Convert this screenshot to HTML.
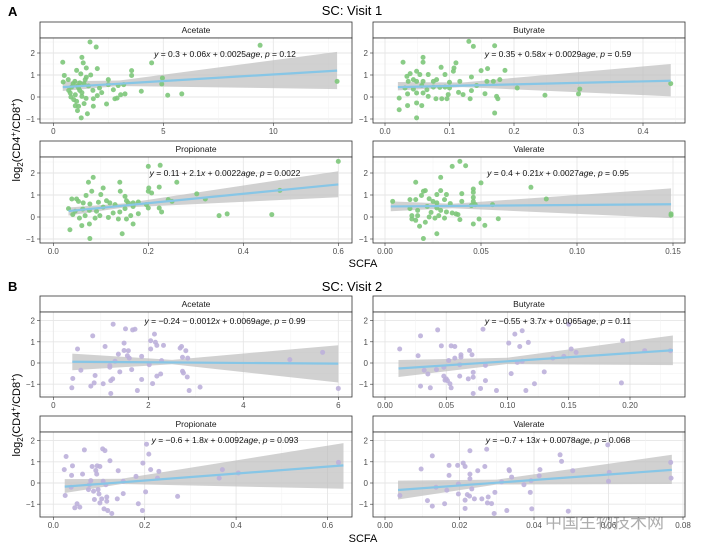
<!DOCTYPE html>
<html><head><meta charset="utf-8"><style>
html,body{margin:0;padding:0;background:#fff;}
svg{display:block;font-family:"Liberation Sans",Arial,sans-serif;}
</style></head><body>
<svg id="fig" width="705" height="553" viewBox="0 0 705 553" xmlns="http://www.w3.org/2000/svg">
<text x="8" y="16" font-size="13" font-weight="bold">A</text>
<text x="352" y="15" font-size="13" text-anchor="middle">SC: Visit 1</text>
<text x="8" y="291" font-size="13" font-weight="bold">B</text>
<text x="352" y="291" font-size="13" text-anchor="middle">SC: Visit 2</text>
<text transform="translate(20,140) rotate(-90)" font-size="11" text-anchor="middle">log<tspan font-size="8" dy="3">2</tspan><tspan dy="-3">(CD4</tspan><tspan font-size="8" dy="-4">+</tspan><tspan dy="4">/CD8</tspan><tspan font-size="8" dy="-4">+</tspan><tspan dy="4">)</tspan></text>
<text transform="translate(20,415) rotate(-90)" font-size="11" text-anchor="middle">log<tspan font-size="8" dy="3">2</tspan><tspan dy="-3">(CD4</tspan><tspan font-size="8" dy="-4">+</tspan><tspan dy="4">/CD8</tspan><tspan font-size="8" dy="-4">+</tspan><tspan dy="4">)</tspan></text>
<text x="363" y="267" font-size="11" text-anchor="middle">SCFA</text>
<text x="363" y="542" font-size="11" text-anchor="middle">SCFA</text>
<text x="545" y="528" font-size="17" fill="#9a9a9a" font-family="'Liberation Sans','Noto Sans CJK SC',sans-serif" opacity="0.8">中国生物技术网</text>
<g id="panels"></g>
</svg>
<script>
// ---- data: Visit 1 ----
const v1AcetateX = [1.67,1.95,0.43,1.3,1.36,1.06,1.5,2.0,0.5,0.68,0.45,0.83,0.98,1.2,1.45,1.7,1.15,0.77,0.93,1.06,1.15,1.1,1.27,1.55,1.3,1.49,1.82,1.82,2.0,2.1,2.42,2.5,2.5,2.73,2.8,2.9,2.95,3.06,3.26,3.2,3.56,3.56,4.0,4.47,4.96,4.93,5.2,5.84,9.4,12.9,1.1,1.2,1.4,1.0,1.3,0.9,1.6,1.5,1.25,0.7,1.4,1.0,1.8,2.2,0.8];
const v1AcetateY = [2.5,2.27,1.58,1.8,1.55,1.21,1.32,1.29,0.98,0.79,0.68,0.45,0.71,0.64,0.79,1.0,0.41,0.18,-0.12,-0.2,-0.42,-0.62,-0.95,-0.76,0.03,-0.06,-0.08,-0.42,0.06,0.41,-0.32,0.79,0.56,0.33,-0.08,-0.05,0.52,0.1,0.14,0.56,1.2,0.98,0.26,1.55,0.86,0.59,0.08,0.14,2.35,0.71,0.5,0.3,0.6,0.1,0.2,0.6,0.5,0.9,1.05,0.3,-0.3,-0.4,0.3,0.2,0.0];
const v1ButyrateX = [0.13,0.137,0.17,0.028,0.059,0.059,0.11,0.087,0.107,0.106,0.186,0.159,0.149,0.039,0.049,0.054,0.067,0.034,0.036,0.044,0.049,0.059,0.075,0.08,0.093,0.1,0.116,0.134,0.158,0.168,0.178,0.031,0.044,0.057,0.065,0.075,0.085,0.093,0.1,0.114,0.121,0.134,0.142,0.022,0.035,0.049,0.059,0.067,0.079,0.088,0.096,0.098,0.132,0.155,0.173,0.175,0.022,0.035,0.049,0.057,0.049,0.17,0.205,0.248,0.302,0.3,0.443];
const v1ButyrateY = [2.53,2.3,2.33,1.58,1.8,1.58,1.55,1.35,1.32,1.17,1.21,1.29,1.2,1.06,1.17,1.02,1.02,0.94,0.71,0.79,0.71,0.71,0.71,0.79,1.02,0.67,0.71,0.91,0.71,0.71,0.79,0.41,0.36,0.52,0.33,0.45,0.44,0.45,0.41,0.21,0.11,0.29,0.52,-0.05,0.14,0.18,0.18,0.03,-0.08,-0.08,-0.08,0.11,-0.08,0.15,0.03,-0.08,-0.58,-0.39,-0.27,-0.39,-0.95,-0.73,0.41,0.08,0.36,0.14,0.61];
const v1PropionateX = [0.2,0.225,0.6,0.084,0.074,0.105,0.14,0.26,0.201,0.2,0.207,0.223,0.141,0.081,0.069,0.1,0.039,0.049,0.053,0.063,0.077,0.095,0.112,0.119,0.13,0.151,0.154,0.158,0.168,0.179,0.196,0.2,0.242,0.302,0.32,0.25,0.032,0.046,0.062,0.076,0.091,0.105,0.126,0.14,0.151,0.168,0.179,0.223,0.228,0.041,0.055,0.067,0.088,0.098,0.116,0.137,0.154,0.163,0.168,0.06,0.076,0.035,0.077,0.145,0.349,0.366,0.46,0.477];
const v1PropionateY = [2.3,2.35,2.53,1.8,1.58,1.32,1.58,1.58,1.32,1.17,1.09,1.36,1.17,1.17,0.98,1.02,0.82,0.82,0.71,0.64,0.59,0.67,0.74,0.64,0.56,0.94,0.74,0.64,0.64,0.68,0.56,0.41,0.79,1.05,0.82,0.71,0.38,0.26,0.36,0.3,0.26,0.45,0.18,0.23,0.38,0.48,0.15,0.41,0.23,0.11,-0.05,0.06,-0.05,0.06,-0.02,-0.09,-0.09,0.06,-0.32,-0.39,-0.32,-0.58,-0.98,-0.76,0.06,0.14,0.11,1.21];
const v1ValerateX = [0.039,0.042,0.035,0.029,0.016,0.05,0.076,0.084,0.02,0.021,0.029,0.046,0.046,0.04,0.032,0.027,0.019,0.004,0.013,0.016,0.023,0.025,0.031,0.034,0.04,0.046,0.046,0.022,0.027,0.027,0.013,0.017,0.024,0.029,0.032,0.035,0.038,0.045,0.047,0.056,0.014,0.017,0.023,0.026,0.028,0.031,0.037,0.039,0.049,0.059,0.014,0.016,0.021,0.018,0.046,0.052,0.027,0.02,0.149,0.149];
const v1ValerateY = [2.53,2.33,2.3,1.8,1.58,1.55,1.35,0.82,1.17,1.2,1.2,1.27,1.12,1.06,1.02,1.02,0.98,0.71,0.79,0.79,0.83,0.71,0.79,0.61,0.71,0.89,0.71,0.48,0.64,0.41,0.38,0.3,0.21,0.3,0.23,0.18,0.11,0.52,0.56,0.56,0.06,0.06,0.0,-0.05,0.06,-0.05,0.14,-0.12,-0.09,-0.08,-0.09,-0.15,-0.24,-0.42,-0.32,-0.38,-0.76,-0.98,0.08,0.14];
// ---- data: Visit 2 ----
const v2AcetateX = [1.26,1.52,1.67,1.72,0.83,2.13,0.51,1.09,1.49,2.05,2.15,2.18,2.32,2.67,2.7,2.79,1.37,1.49,1.58,1.56,1.6,1.86,2.05,2.72,2.83,2.28,1.3,1.19,1.19,2.02,0.58,1.65,1.4,2.72,2.74,2.82,2.26,2.18,0.41,0.88,1.25,1.21,1.86,0.86,1.05,0.79,0.39,2.09,1.77,1.21,2.86,3.09,4.98,5.67,6.0];
const v2AcetateY = [1.83,1.61,1.56,1.59,1.28,1.36,0.66,0.78,0.94,1.05,0.98,0.83,0.83,0.7,0.78,0.58,0.42,0.59,0.58,0.34,0.23,0.31,0.66,0.27,0.23,0.11,0.08,-0.12,-0.2,-0.08,-0.34,-0.31,-0.42,-0.39,-0.47,-0.66,-0.52,-0.62,-0.73,-0.59,-0.75,-0.83,-0.78,-0.94,-0.98,-1.09,-1.17,-0.97,-1.3,-1.44,-1.3,-1.14,0.16,0.5,-1.2];
const v2ButyrateX = [0.012,0.029,0.043,0.046,0.054,0.057,0.027,0.052,0.057,0.062,0.062,0.069,0.071,0.061,0.08,0.106,0.112,0.101,0.11,0.117,0.082,0.108,0.112,0.137,0.146,0.152,0.156,0.15,0.194,0.212,0.233,0.032,0.035,0.042,0.048,0.048,0.05,0.051,0.049,0.053,0.054,0.029,0.037,0.061,0.068,0.072,0.072,0.082,0.078,0.072,0.091,0.103,0.115,0.122,0.13,0.193];
const v2ButyrateY = [0.66,1.28,1.56,0.81,0.81,0.78,0.34,0.12,0.23,0.39,0.28,0.59,0.39,-0.08,1.59,1.36,1.52,0.94,0.78,0.97,-0.11,0.03,0.08,0.23,0.31,0.66,0.5,1.83,1.05,0.58,0.58,-0.34,-0.52,-0.31,-0.2,-0.62,-0.75,-0.83,-0.81,-0.98,-1.17,-1.09,-1.17,-0.62,-0.75,-0.67,-0.44,-0.83,-1.2,-1.44,-1.3,-0.5,-1.3,-0.98,-0.42,-0.94];
const v2PropionateX = [0.028,0.068,0.108,0.113,0.204,0.209,0.024,0.042,0.04,0.064,0.085,0.096,0.102,0.093,0.095,0.124,0.142,0.196,0.213,0.231,0.228,0.181,0.153,0.039,0.082,0.109,0.115,0.079,0.026,0.077,0.088,0.098,0.1,0.09,0.117,0.117,0.106,0.102,0.14,0.153,0.202,0.186,0.195,0.047,0.052,0.058,0.111,0.119,0.128,0.272,0.363,0.37,0.405,0.624];
const v2PropionateY = [1.25,1.56,1.61,1.53,1.83,1.36,0.63,0.81,0.36,0.42,0.78,0.81,0.78,0.59,0.42,1.05,0.58,0.94,0.63,0.55,0.23,0.31,0.08,-0.2,0.11,0.08,-0.08,-0.08,-0.59,-0.31,-0.39,-0.31,-0.52,-0.78,-0.66,-0.86,-0.75,-0.94,-0.75,-0.5,-0.42,-0.98,-1.3,-1.17,-0.98,-1.14,-1.22,-1.3,-1.44,-0.63,0.23,0.63,0.47,0.97];
const v2ValerateX = [0.004,0.0097,0.0127,0.0114,0.0127,0.0137,0.016,0.0166,0.0172,0.0172,0.0195,0.0197,0.0197,0.021,0.0215,0.0215,0.0215,0.0221,0.0227,0.0228,0.0228,0.0228,0.0233,0.024,0.0249,0.026,0.0268,0.0273,0.0275,0.0277,0.0286,0.0293,0.0295,0.0313,0.0327,0.0333,0.0334,0.034,0.0373,0.039,0.0392,0.0394,0.0414,0.0416,0.047,0.0474,0.0492,0.0504,0.0598,0.0602,0.06,0.0767,0.0768];
const v2ValerateY = [-0.59,0.66,1.28,-0.83,-1.09,-0.2,-0.98,-0.34,0.83,0.36,0.83,-0.05,-0.52,0.94,0.78,-0.81,-1.2,-0.55,-0.62,1.52,0.42,0.2,-0.28,-0.75,0.58,-0.75,0.78,1.59,-0.94,-0.66,-0.97,-1.44,-0.44,0.05,-1.3,0.63,0.58,0.28,-0.08,-0.44,0.11,-1.22,0.34,0.63,1.33,1.02,-1.33,0.58,1.8,0.5,0.08,0.97,0.23];
// ---- fitted lines [xStart, xMid, xEnd] with fit, lower, upper ----
const fitX = {v1a:[0.43,3,12.9], v1b:[0.02,0.12,0.443], v1p:[0.032,0.15,0.6], v1v:[0.003,0.035,0.149], v2a:[0.4,2.5,6.0], v2b:[0.011,0.1,0.235], v2p:[0.025,0.15,0.635], v2v:[0.0035,0.03,0.077]};
const fitY = {v1a:[0.45,0.62,1.2], v1b:[0.45,0.56,0.74], v1p:[0.27,0.52,1.48], v1v:[0.48,0.5,0.58], v2a:[0.06,0.04,-0.03], v2b:[-0.26,0.1,0.6], v2p:[-0.17,0.05,0.83], v2v:[-0.33,0.05,0.62]};
const bandLo = {v1a:[0.27,0.5,0.36], v1b:[0.3,0.45,0.03], v1p:[0.07,0.43,0.9], v1v:[0.26,0.4,-0.05], v2a:[-0.34,-0.06,-0.92], v2b:[-0.66,-0.05,-0.1], v2p:[-0.47,-0.05,-0.27], v2v:[-0.78,-0.07,-0.05]};
const bandHi = {v1a:[0.71,0.75,2.05], v1b:[0.68,0.66,1.5], v1p:[0.43,0.62,2.08], v1v:[0.71,0.6,1.3], v2a:[0.44,0.15,0.84], v2b:[0.14,0.25,1.3], v2p:[0.18,0.2,1.88], v2v:[0.11,0.16,1.33]};
const xTicksAcetate1 = [0,5,10];
const xTicksButyrate1 = [0,0.1,0.2,0.3,0.4];
const xTicksPropionate1 = [0,0.2,0.4,0.6];
const xTicksValerate1 = [0,0.05,0.1,0.15];
const xTicksAcetate2 = [0,2,4,6];
const xTicksButyrate2 = [0,0.05,0.1,0.15,0.2];
const xTicksPropionate2 = [0,0.2,0.4,0.6];
const xTicksValerate2 = [0,0.02,0.04,0.06,0.08];
const yTicks = [-1,0,1,2];
const equations = {
 v1a:'<tspan font-style="italic">y</tspan> = 0.3 + 0.06<tspan font-style="italic">x</tspan> + 0.0025<tspan font-style="italic">age</tspan>, <tspan font-style="italic">p</tspan> = 0.12',
 v1b:'<tspan font-style="italic">y</tspan> = 0.35 + 0.58<tspan font-style="italic">x</tspan> + 0.0029<tspan font-style="italic">age</tspan>, <tspan font-style="italic">p</tspan> = 0.59',
 v1p:'<tspan font-style="italic">y</tspan> = 0.11 + 2.1<tspan font-style="italic">x</tspan> + 0.0022<tspan font-style="italic">age</tspan>, <tspan font-style="italic">p</tspan> = 0.0022',
 v1v:'<tspan font-style="italic">y</tspan> = 0.4 + 0.21<tspan font-style="italic">x</tspan> + 0.0027<tspan font-style="italic">age</tspan>, <tspan font-style="italic">p</tspan> = 0.95',
 v2a:'<tspan font-style="italic">y</tspan> = −0.24 − 0.0012<tspan font-style="italic">x</tspan> + 0.0069<tspan font-style="italic">age</tspan>, <tspan font-style="italic">p</tspan> = 0.99',
 v2b:'<tspan font-style="italic">y</tspan> = −0.55 + 3.7<tspan font-style="italic">x</tspan> + 0.0065<tspan font-style="italic">age</tspan>, <tspan font-style="italic">p</tspan> = 0.11',
 v2p:'<tspan font-style="italic">y</tspan> = −0.6 + 1.8<tspan font-style="italic">x</tspan> + 0.0092<tspan font-style="italic">age</tspan>, <tspan font-style="italic">p</tspan> = 0.093',
 v2v:'<tspan font-style="italic">y</tspan> = −0.7 + 13<tspan font-style="italic">x</tspan> + 0.0078<tspan font-style="italic">age</tspan>, <tspan font-style="italic">p</tspan> = 0.068'
};

// ---- layout ----
const LEFT=[40,352], RIGHT=[373,685];
const panels = [
 {key:'v1a',name:'Acetate',col:LEFT,top:38,bot:123,x0:53.3,xs:22,y0:97,ys:22,ticks:xTicksAcetate1,fmt:v=>String(v),px:v1AcetateX,py:v1AcetateY,color:'#7dc67a',eqx:225,eqy:57},
 {key:'v1b',name:'Butyrate',col:RIGHT,top:38,bot:123,x0:385,xs:645,y0:97,ys:22,ticks:xTicksButyrate1,fmt:v=>v.toFixed(1),px:v1ButyrateX,py:v1ButyrateY,color:'#7dc67a',eqx:558,eqy:57},
 {key:'v1p',name:'Propionate',col:LEFT,top:157,bot:243,x0:53.3,xs:475,y0:217,ys:22,ticks:xTicksPropionate1,fmt:v=>v.toFixed(1),px:v1PropionateX,py:v1PropionateY,color:'#7dc67a',eqx:225,eqy:176},
 {key:'v1v',name:'Valerate',col:RIGHT,top:157,bot:243,x0:385,xs:1920,y0:217,ys:22,ticks:xTicksValerate1,fmt:v=>v.toFixed(2),px:v1ValerateX,py:v1ValerateY,color:'#7dc67a',eqx:558,eqy:176},
 {key:'v2a',name:'Acetate',col:LEFT,top:312,bot:397,x0:53.3,xs:47.5,y0:363,ys:21.2,ticks:xTicksAcetate2,fmt:v=>String(v),px:v2AcetateX,py:v2AcetateY,color:'#bdb0da',eqx:225,eqy:324},
 {key:'v2b',name:'Butyrate',col:RIGHT,top:312,bot:397,x0:385,xs:1225,y0:363,ys:21.2,ticks:xTicksButyrate2,fmt:v=>v.toFixed(2),px:v2ButyrateX,py:v2ButyrateY,color:'#bdb0da',eqx:558,eqy:324},
 {key:'v2p',name:'Propionate',col:LEFT,top:432,bot:517,x0:53.3,xs:457,y0:483,ys:21.2,ticks:xTicksPropionate2,fmt:v=>v.toFixed(1),px:v2PropionateX,py:v2PropionateY,color:'#bdb0da',eqx:225,eqy:443},
 {key:'v2v',name:'Valerate',col:RIGHT,top:432,bot:517,x0:385,xs:3725,y0:483,ys:21.2,ticks:xTicksValerate2,fmt:v=>v.toFixed(2),px:v2ValerateX,py:v2ValerateY,color:'#bdb0da',eqx:558,eqy:443}
];
const NS='http://www.w3.org/2000/svg';
const root=document.getElementById('panels');
function mk(tag,attrs,parent){const e=document.createElementNS(NS,tag);for(const k in attrs)e.setAttribute(k,attrs[k]);(parent||root).appendChild(e);return e;}

panels.forEach(p=>{
 const g=mk('g',{});
 
 
 const L=p.col[0],R=p.col[1],T=p.top,B=p.bot;
 const sx=v=>p.x0+v*p.xs, sy=v=>p.y0-v*p.ys;
 // strip
 const st=mk('rect',{x:L,y:T-16,width:R-L,height:16,fill:'#fff',stroke:'#333','stroke-width':0.8},g);
 
 
 const stt=mk('text',{x:(L+R)/2,y:T-5,'font-size':8.5,'text-anchor':'middle',fill:'#1a1a1a'},g);
 stt.textContent=p.name;
 
 
 mk('rect',{x:L,y:T,width:R-L,height:B-T,fill:'#fff'},g);
 const clip='c'+p.key;
 const cp=mk('clipPath',{id:clip},g);mk('rect',{x:L,y:T,width:R-L,height:B-T},cp);
 const grid=mk('g',{'clip-path':'url(#'+clip+')'},g);
 
 
 // y grid
 for(let v=-1.5;v<=2.5;v+=0.5){const y=sy(v);const major=Number.isInteger(v);mk('line',{x1:L,x2:R,y1:y,y2:y,stroke:major?'#e6e6e6':'#f2f2f2','stroke-width':major?0.9:0.5},grid);}
 // x grid
 const step=p.ticks[1]-p.ticks[0];
 for(let i=-1;i<=p.ticks.length;i++){const v=p.ticks[0]+i*step;const x=sx(v);mk('line',{x1:x,x2:x,y1:T,y2:B,stroke:'#e6e6e6','stroke-width':0.9},grid);const xm=sx(v+step/2);mk('line',{x1:xm,x2:xm,y1:T,y2:B,stroke:'#f2f2f2','stroke-width':0.5},grid);}
 // band
 const fx=fitX[p.key],lo=bandLo[p.key],hi=bandHi[p.key],fy=fitY[p.key];
 let d='M'+fx.map((x,i)=>sx(x)+','+sy(hi[i])).join(' L')+' L'+fx.slice().reverse().map((x,i)=>sx(x)+','+sy(lo[lo.length-1-i])).join(' L')+'Z';
 const band=mk('path',{d:d,fill:'#bdbdbd','fill-opacity':0.7},grid);
 
 
 // points
 const pts=mk('g',{},grid);
 
 
 p.px.forEach((x,i)=>{const c=mk('circle',{cx:sx(x),cy:sy(p.py[i]),r:2.5,fill:p.color,'fill-opacity':0.9},pts);
  
  });
 // line
 const ln=mk('line',{x1:sx(fx[0]),y1:sy(fy[0]),x2:sx(fx[2]),y2:sy(fy[2]),stroke:'#87c6e6','stroke-width':2.2},grid);
 
 
 // border
 mk('rect',{x:L,y:T,width:R-L,height:B-T,fill:'none',stroke:'#333','stroke-width':0.8},g);
 // y ticks
 yTicks.forEach(v=>{const y=sy(v);mk('line',{x1:L-3,x2:L,y1:y,y2:y,stroke:'#333','stroke-width':0.6},g);
  const t=mk('text',{x:L-5,y:y+3,'font-size':8,'text-anchor':'end',fill:'#4d4d4d'},g);t.textContent=v<0?'−'+Math.abs(v):String(v);
  
  });
 // x ticks
 p.ticks.forEach(v=>{const x=sx(v);mk('line',{x1:x,x2:x,y1:B,y2:B+3,stroke:'#333','stroke-width':0.6},g);
  const t=mk('text',{x:x,y:B+11,'font-size':8,'text-anchor':'middle',fill:'#4d4d4d'},g);t.textContent=p.fmt(v);
  
  });
 // equation
 const eq=mk('text',{x:p.eqx,y:p.eqy,'font-size':8.5,'text-anchor':'middle',fill:'#111'},g);
 eq.innerHTML=equations[p.key];
 
 
});
</script>
</body></html>
